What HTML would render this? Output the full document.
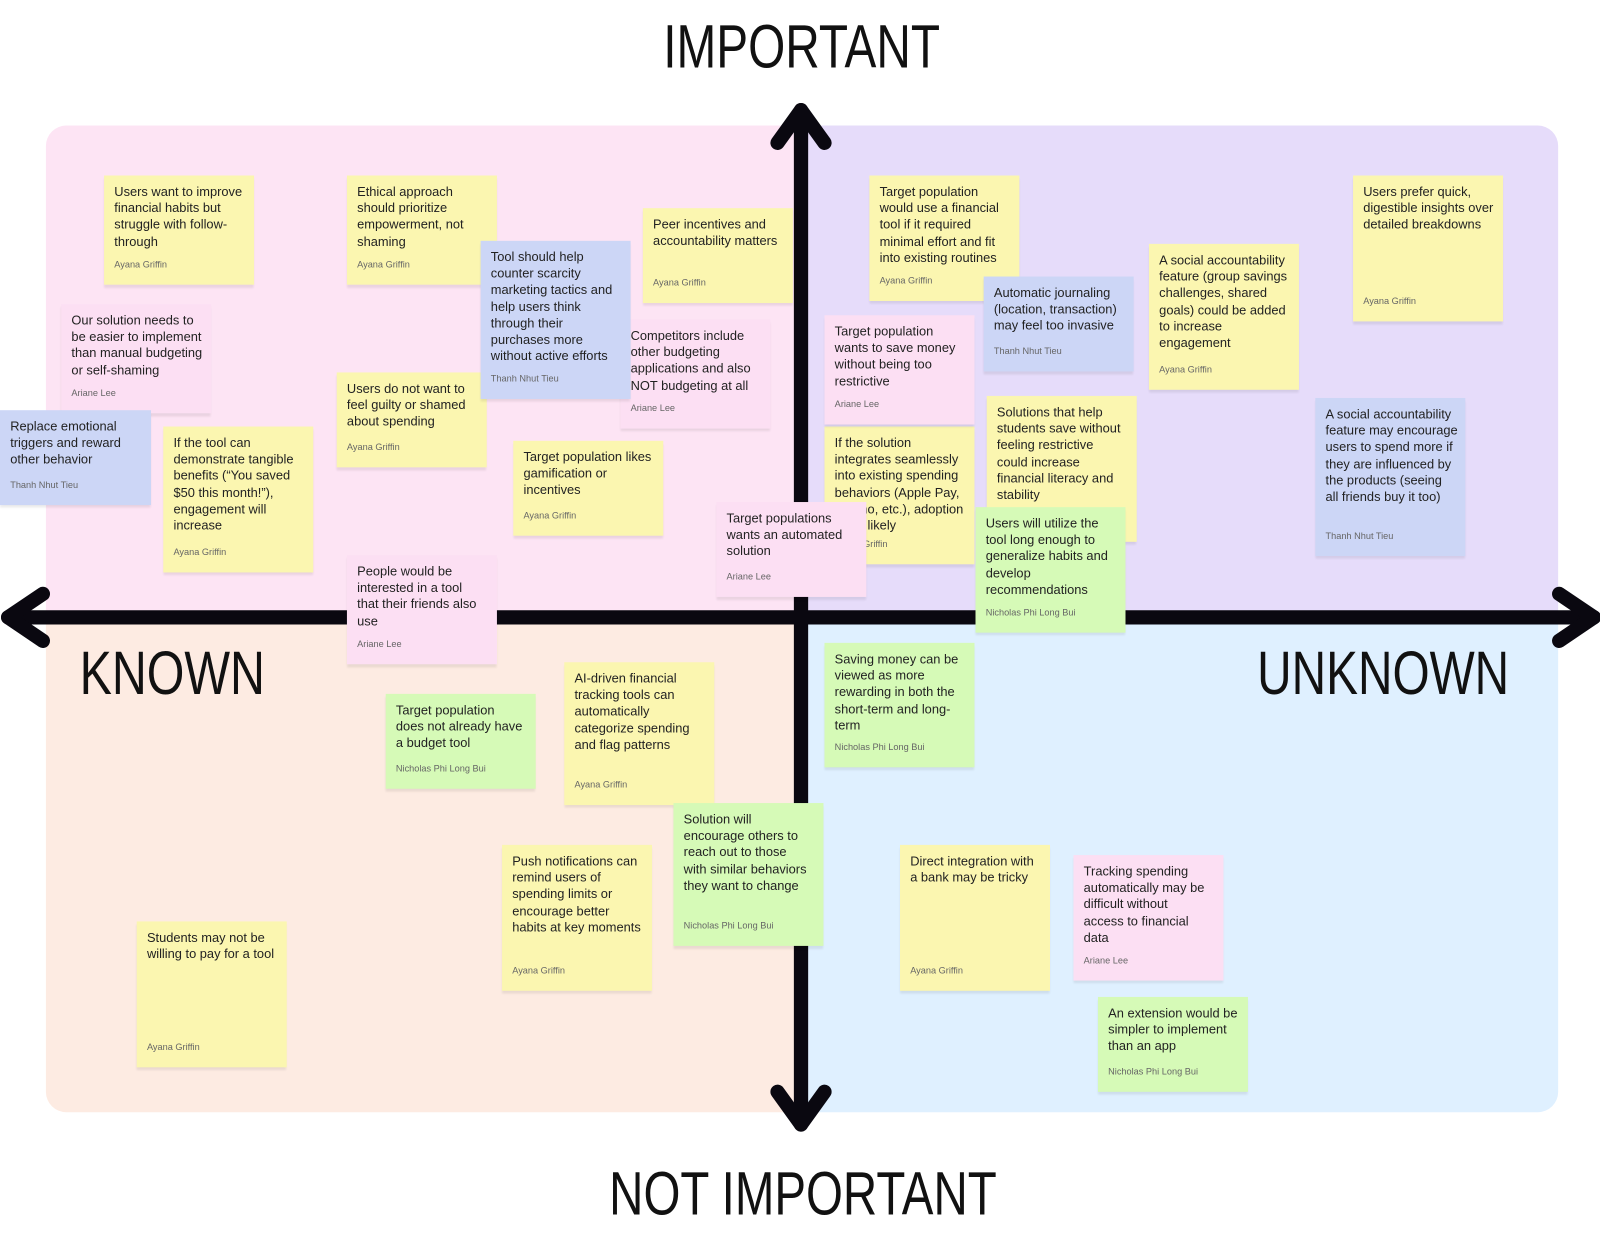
<!DOCTYPE html>
<html><head><meta charset="utf-8"><style>
html,body{margin:0;padding:0;background:#fff;}
body{width:1600px;height:1253px;overflow:hidden;position:relative;}
#c{position:absolute;left:0;top:0;width:1568px;height:1228px;transform:scale(1.0204);transform-origin:0 0;font-family:"Liberation Sans",sans-serif;}
.p{position:absolute;}
.s{position:absolute;width:147px;box-sizing:border-box;padding:8px 4px 9px 10px;font-size:12.6px;line-height:16.2px;color:#222;box-shadow:0 3px 2px rgba(0,0,0,0.08);white-space:nowrap;overflow:hidden;}
.s i{position:absolute;left:10px;bottom:12px;font-style:normal;font-size:9px;color:#666;}
.y{background:#fbf6b0}.k{background:#fcdff3}.b{background:#ccd6f6}.g{background:#d6fab7}
.t{position:absolute;font-size:60px;color:#111;white-space:nowrap;transform:scaleX(0.78);transform-origin:0 0;line-height:1;}
</style></head><body><div id="c">
<div class="p" style="left:45px;top:123px;width:740px;height:482px;background:#fde4f4;border-top-left-radius:20px"></div>
<div class="p" style="left:785px;top:123px;width:742px;height:482px;background:#e6dcfa;border-top-right-radius:20px"></div>
<div class="p" style="left:45px;top:605px;width:740px;height:485px;background:#fdebe2;border-bottom-left-radius:20px"></div>
<div class="p" style="left:785px;top:605px;width:742px;height:485px;background:#dff0ff;border-bottom-right-radius:20px"></div>
<svg class="p" style="left:0;top:0" width="1568" height="1228">
<g stroke="#0a0810" stroke-width="14" stroke-linecap="round" stroke-linejoin="round" fill="none">
<line x1="785" y1="108" x2="785" y2="1102"/>
<line x1="8" y1="605" x2="1562" y2="605"/>
<polyline points="762,140 785,108 808,140"/>
<polyline points="762,1070 785,1102 808,1070"/>
<polyline points="42,582 8,605 42,628"/>
<polyline points="1528,582 1562,605 1528,628"/>
</g></svg>
<div class="t" style="left:650px;top:16px;">IMPORTANT</div>
<div class="t" style="left:597px;top:1140px;transform:scaleX(0.775)">NOT IMPORTANT</div>
<div class="t" style="left:78px;top:630px;transform:scaleX(0.79)">KNOWN</div>
<div class="t" style="left:1232px;top:630px;">UNKNOWN</div>

<div class="s y" style="left:102px;top:172px;height:107px">Users want to improve<br>financial habits but<br>struggle with follow-<br>through<i>Ayana Griffin</i></div>
<div class="s y" style="left:340px;top:172px;height:107px">Ethical approach<br>should prioritize<br>empowerment, not<br>shaming<i>Ayana Griffin</i></div>
<div class="s k" style="left:60px;top:298px;height:107px">Our solution needs to<br>be easier to implement<br>than manual budgeting<br>or self-shaming<i>Ariane Lee</i></div>
<div class="s b" style="left:0px;top:402px;height:93px;width:148px">Replace emotional<br>triggers and reward<br>other behavior<i>Thanh Nhut Tieu</i></div>
<div class="s y" style="left:160px;top:418px;height:143px">If the tool can<br>demonstrate tangible<br>benefits (“You saved<br>$50 this month!”),<br>engagement will<br>increase<i>Ayana Griffin</i></div>
<div class="s y" style="left:330px;top:365px;height:93px">Users do not want to<br>feel guilty or shamed<br>about spending<i>Ayana Griffin</i></div>
<div class="s k" style="left:608px;top:313px;height:107px">Competitors include<br>other budgeting<br>applications and also<br>NOT budgeting at all<i>Ariane Lee</i></div>
<div class="s b" style="left:471px;top:236px;height:155px">Tool should help<br>counter scarcity<br>marketing tactics and<br>help users think<br>through their<br>purchases more<br>without active efforts<i>Thanh Nhut Tieu</i></div>
<div class="s y" style="left:630px;top:204px;height:93px">Peer incentives and<br>accountability matters<i>Ayana Griffin</i></div>
<div class="s y" style="left:503px;top:432px;height:93px">Target population likes<br>gamification or<br>incentives<i>Ayana Griffin</i></div>
<div class="s k" style="left:340px;top:544px;height:107px">People would be<br>interested in a tool<br>that their friends also<br>use<i>Ariane Lee</i></div>
<div class="s y" style="left:852px;top:172px;height:123px">Target population<br>would use a financial<br>tool if it required<br>minimal effort and fit<br>into existing routines<i>Ayana Griffin</i></div>
<div class="s b" style="left:964px;top:271px;height:93px">Automatic journaling<br>(location, transaction)<br>may feel too invasive<i>Thanh Nhut Tieu</i></div>
<div class="s y" style="left:808px;top:418px;height:135px">If the solution<br>integrates seamlessly<br>into existing spending<br>behaviors (Apple Pay,<br>Venmo, etc.), adoption<br>more likely<i>Ayana Griffin</i></div>
<div class="s k" style="left:808px;top:309px;height:107px">Target population<br>wants to save money<br>without being too<br>restrictive<i>Ariane Lee</i></div>
<div class="s k" style="left:702px;top:492px;height:93px">Target populations<br>wants an automated<br>solution<i>Ariane Lee</i></div>
<div class="s y" style="left:967px;top:388px;height:143px">Solutions that help<br>students save without<br>feeling restrictive<br>could increase<br>financial literacy and<br>stability</div>
<div class="s g" style="left:956px;top:497px;height:123px">Users will utilize the<br>tool long enough to<br>generalize habits and<br>develop<br>recommendations<i>Nicholas Phi Long Bui</i></div>
<div class="s y" style="left:1126px;top:239px;height:143px">A social accountability<br>feature (group savings<br>challenges, shared<br>goals) could be added<br>to increase<br>engagement<i>Ayana Griffin</i></div>
<div class="s y" style="left:1326px;top:172px;height:143px">Users prefer quick,<br>digestible insights over<br>detailed breakdowns<i>Ayana Griffin</i></div>
<div class="s b" style="left:1289px;top:390px;height:155px">A social accountability<br>feature may encourage<br>users to spend more if<br>they are influenced by<br>the products (seeing<br>all friends buy it too)<i>Thanh Nhut Tieu</i></div>
<div class="s g" style="left:378px;top:680px;height:93px">Target population<br>does not already have<br>a budget tool<i>Nicholas Phi Long Bui</i></div>
<div class="s y" style="left:553px;top:649px;height:140px">AI-driven financial<br>tracking tools can<br>automatically<br>categorize spending<br>and flag patterns<i>Ayana Griffin</i></div>
<div class="s y" style="left:492px;top:828px;height:143px">Push notifications can<br>remind users of<br>spending limits or<br>encourage better<br>habits at key moments<i>Ayana Griffin</i></div>
<div class="s g" style="left:660px;top:787px;height:140px">Solution will<br>encourage others to<br>reach out to those<br>with similar behaviors<br>they want to change<i>Nicholas Phi Long Bui</i></div>
<div class="s y" style="left:134px;top:903px;height:143px">Students may not be<br>willing to pay for a tool<i>Ayana Griffin</i></div>
<div class="s g" style="left:808px;top:630px;height:122px">Saving money can be<br>viewed as more<br>rewarding in both the<br>short-term and long-<br>term<i>Nicholas Phi Long Bui</i></div>
<div class="s y" style="left:882px;top:828px;height:143px">Direct integration with<br>a bank may be tricky<i>Ayana Griffin</i></div>
<div class="s k" style="left:1052px;top:838px;height:123px">Tracking spending<br>automatically may be<br>difficult without<br>access to financial<br>data<i>Ariane Lee</i></div>
<div class="s g" style="left:1076px;top:977px;height:93px">An extension would be<br>simpler to implement<br>than an app<i>Nicholas Phi Long Bui</i></div>
</div></body></html>
